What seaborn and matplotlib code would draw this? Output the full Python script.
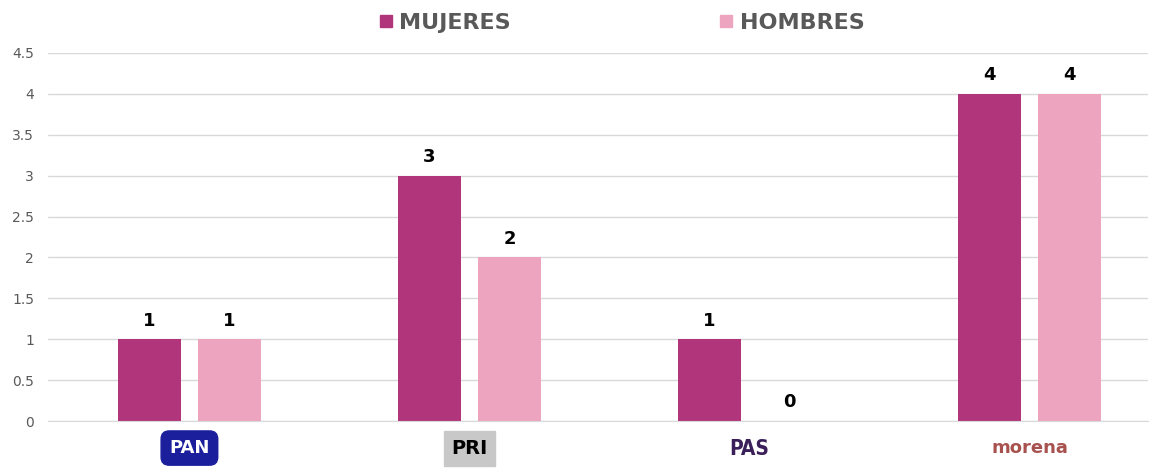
import pandas as pd
import matplotlib.pyplot as plt
import seaborn as sns
from matplotlib.lines import Line2D

partidos = ['PAN', 'PRI', 'PAS', 'morena']
mujeres = [1, 3, 1, 4]
hombres = [1, 2, 0, 4]
series = ['MUJERES', 'HOMBRES']
colores = ['#B0357A', '#EDA4BF']

df = pd.DataFrame({
    'partido': partidos * 2,
    'sexo': [series[0]] * 4 + [series[1]] * 4,
    'valor': mujeres + hombres,
})

sns.set_style('white')
plt.rcParams['font.family'] = ['DejaVu Sans']

fig = plt.figure(figsize=(11.56, 4.73), dpi=100)
ax = fig.add_axes([48 / 1156, 52 / 473, 1100 / 1156, 368 / 473])

sns.barplot(data=df, x='partido', y='valor', hue='sexo', palette=colores,
            width=0.571, gap=0.2125, saturation=1, legend=False,
            linewidth=0, edgecolor='none', ax=ax)

for c in ax.containers:
    ax.bar_label(c, fmt='%d', padding=7, fontsize=13, fontweight='bold', color='black')

ax.set_ylim(0, 4.5)
ax.set_xlim(-0.505, 3.423)
ax.set_yticks([0, 0.5, 1, 1.5, 2, 2.5, 3, 3.5, 4, 4.5])
ax.set_yticklabels(['0', '0.5', '1', '1.5', '2', '2.5', '3', '3.5', '4', '4.5'])
ax.yaxis.grid(True, color='#D9D9D9', linewidth=1)
ax.set_axisbelow(True)
for s in ['top', 'right', 'left']:
    ax.spines[s].set_visible(False)
ax.spines['bottom'].set_color('#D9D9D9')
ax.tick_params(axis='y', labelsize=10, labelcolor='#595959', length=0, pad=10)
ax.tick_params(axis='x', length=0, pad=13)
ax.set_xlabel('')
ax.set_ylabel('')

# etiquetas tipo logo
ax.set_xticks(range(4))
ax.set_xticklabels(partidos)
estilos = [
    dict(color='white', fontsize=13, fontweight='bold',
         bbox=dict(boxstyle='round,pad=0.45', fc='#1B1F9B', ec='#1B1F9B')),
    dict(color='black', fontsize=14, fontweight='bold',
         bbox=dict(boxstyle='square,pad=0.4', fc='#C8C8C8', ec='#C8C8C8')),
    dict(color='#3B1F5A', fontsize=15, fontweight='bold', fontstretch='condensed'),
    dict(color='#A8524F', fontsize=13, fontweight='bold'),
]
for lbl, st in zip(ax.get_xticklabels(), estilos):
    lbl.set(**st)

handles = [Line2D([], [], marker='s', linestyle='', markersize=8,
                  color=c) for c in colores]
fig.legend(handles, series, loc='upper center', bbox_to_anchor=(0.538, 1.015),
           ncol=2, frameon=False, columnspacing=9.4, handlelength=0.6,
           handletextpad=0.3, prop={'size': 16, 'weight': 'bold'},
           labelcolor='#595959')

plt.savefig('out.png', dpi=100)
